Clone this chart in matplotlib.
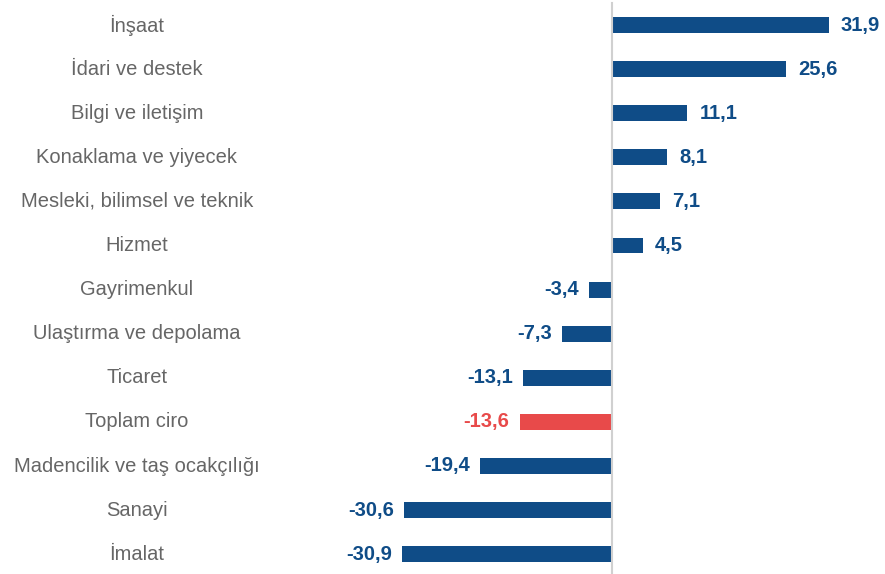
import matplotlib.pyplot as plt

sectors = ["İnşaat", "İdari ve destek", "Bilgi ve iletişim", "Konaklama ve yiyecek",
           "Mesleki, bilimsel ve teknik", "Hizmet", "Gayrimenkul", "Ulaştırma ve depolama",
           "Ticaret", "Toplam ciro", "Madencilik ve taş ocakçılığı", "Sanayi", "İmalat"]
values = [31.9, 25.6, 11.1, 8.1, 7.1, 4.5, -3.4, -7.3, -13.1, -13.6, -19.4, -30.6, -30.9]

blue = "#0f4c87"
red = "#e84a4a"
colors = [red if s == "Toplam ciro" else blue for s in sectors]

plt.rcParams['font.family'] = ['Liberation Sans', 'DejaVu Sans']

fig = plt.figure(figsize=(8.85, 5.74), dpi=100)
# axes from x=300px to right edge, full height
ax = fig.add_axes([300 / 885, 0, 585 / 885, 1])
px = 6.8  # pixels per unit
ax.set_xlim((300 - 612) / px, (885 - 612) / px)
row = 44.1
ax.set_ylim(549 / row, -25 / row)

ypos = list(range(len(values)))
ax.barh(ypos, values, height=0.36, color=colors)
ax.plot([0, 0], [-22 / row, 549 / row], color="#d0d0d0", lw=1.5)

for y, v, c in zip(ypos, values, colors):
    txt = f"{v:.1f}".replace(".", ",")
    if v >= 0:
        ax.text(v + 12 / px, y, txt, ha="left", va="center", color=c,
                fontsize=14.5, fontweight="bold")
    else:
        ax.text(v - 10 / px, y, txt, ha="right", va="center", color=c,
                fontsize=14.5, fontweight="bold")

for y, s in zip(ypos, sectors):
    fig.text(137 / 885, 1 - (25 + row * y) / 574, s, ha="center", va="center",
             color="#666666", fontsize=14.5)

ax.axis("off")
fig.savefig("out.png", dpi=100)
